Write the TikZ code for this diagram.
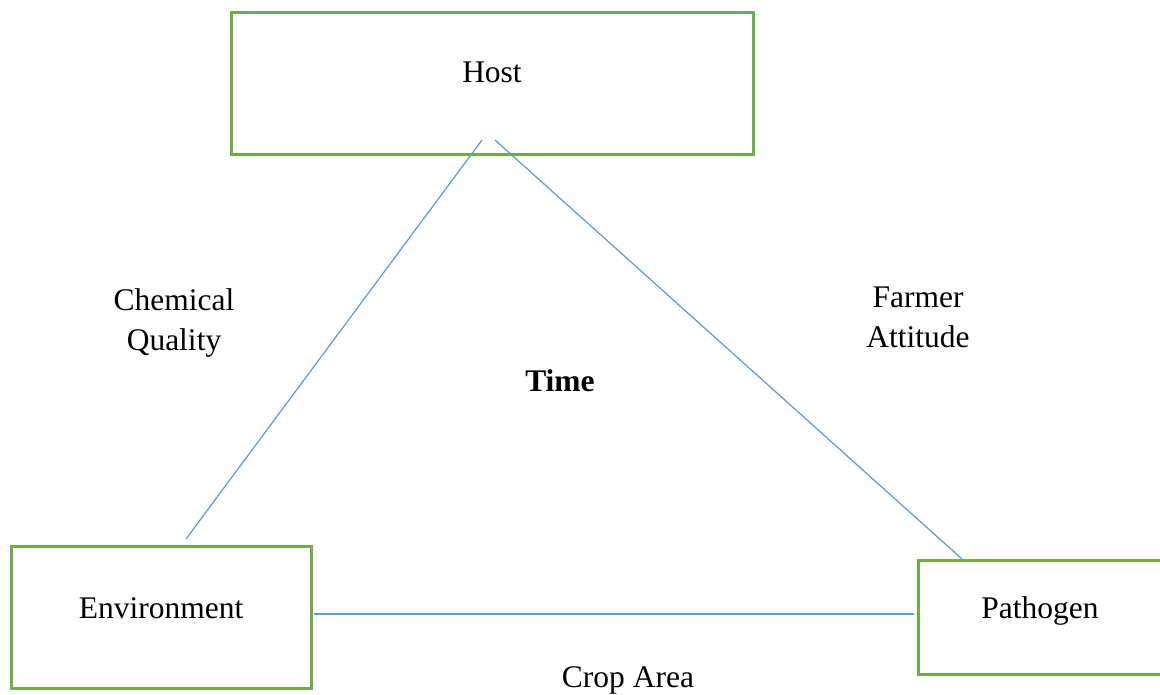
\documentclass[tikz,border=0pt]{standalone}
\usepackage{fontspec}
\setmainfont{Liberation Serif}
\definecolor{boxgreen}{HTML}{70AD47}
\definecolor{lineblue}{HTML}{5B9BD5}
\begin{document}
\begin{tikzpicture}[x=1pt,y=-1pt,
  box/.style={draw=boxgreen,line width=3pt,rectangle,inner sep=0pt},
  lbl/.style={font=\fontsize{31.5}{40}\selectfont,inner sep=0pt,anchor=base,align=center},
  conn/.style={draw=lineblue,line width=1.2pt}]
\useasboundingbox (0,0) rectangle (1160,694);
\fill[white] (0,0) rectangle (1160,694);
% boxes
\node[box,minimum width=522pt,minimum height=142pt] (host) at (492,83) {};
\node[box,minimum width=300pt,minimum height=142pt] (env) at (161,617) {};
\node[box,minimum width=246pt,minimum height=114pt] (path) at (1041,617) {};
% texts
\node[lbl] (hostt) at (492,82) {Host};
\node[lbl] (envt) at (161,618) {Environment};
\node[lbl] (patht) at (1040,618) {Pathogen};
\node[lbl] (chem) at (174,310) {Chemical};
\node[lbl] (qual) at (174,350) {Quality};
\node[lbl] (farm) at (918,307) {Farmer};
\node[lbl] (att) at (918,347) {Attitude};
\node[lbl,font=\fontsize{31.5}{40}\selectfont\bfseries] (time) at (560,391) {Time};
\node[lbl] (crop) at (628,687) {Crop Area};
% connector ends
\coordinate (h1) at (482,140);
\coordinate (h2) at (495,140);
\coordinate (e1) at (186,539);
\coordinate (e2) at (314,614);
\coordinate (p1) at (962,559);
\coordinate (p2) at (914,614);
\draw[conn] (h1) -- (e1);
\draw[conn] (h2) -- (p1);
\draw[conn] (e2) -- (p2);
\end{tikzpicture}
\end{document}
